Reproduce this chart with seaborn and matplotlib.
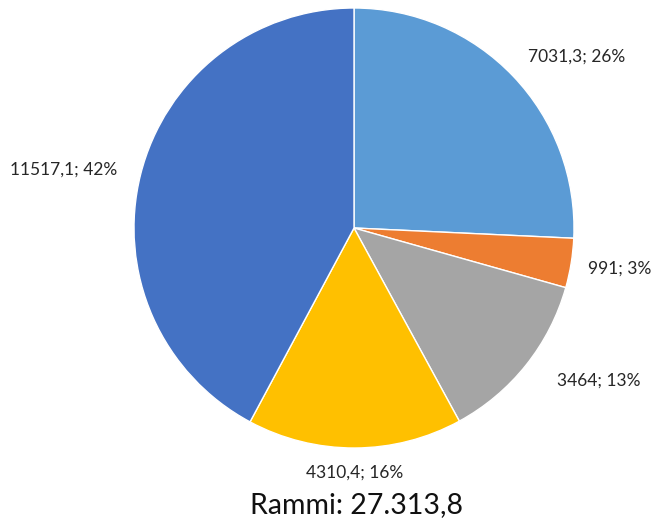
import numpy as np
import matplotlib
matplotlib.use("Agg")
import matplotlib.pyplot as plt
import seaborn as sns

# values per slice, clockwise from 12 o'clock
values = [7031.3, 991, 3464, 4310.4, 11517.1]
value_labels = ["7031,3", "991", "3464", "4310,4", "11517,1"]
pct_labels = ["26%", "3%", "13%", "16%", "42%"]
colors = ["#5B9BD5", "#ED7D31", "#A5A5A5", "#FFC000", "#4472C4"]
title = "Rammi: 27.313,8"

sns.set_style("white")
plt.rcParams["font.family"] = ["Lato", "DejaVu Sans"]

fig = plt.figure(figsize=(6.54, 5.29), dpi=100)
ax = fig.add_axes([134 / 654, 81 / 529, 440 / 654, 440 / 529])

wedges, _ = ax.pie(values, colors=colors, startangle=90, counterclock=False,
                   radius=1, wedgeprops=dict(edgecolor="white", linewidth=1))
ax.set_xlim(-1, 1)
ax.set_ylim(-1, 1)
ax.set_aspect("equal")
ax.axis("off")

# label placement, excel "best fit" look: distance from centre and angle shift
label_dist = [1.275, 1.223, 1.31, 1.11, 1.345]
label_shift = [-6.1, 0.6, 6.7, 0.0, 2.8]
for w, v, p, d, s in zip(wedges, value_labels, pct_labels, label_dist, label_shift):
    ang = np.deg2rad((w.theta1 + w.theta2) / 2 + s)
    ax.text(d * np.cos(ang), d * np.sin(ang), f"{v}; {p}", ha="center", va="center",
            fontsize=12.5, color="#262626", clip_on=False)

fig.text(357 / 654, 1 - 505 / 529, title, ha="center", va="center", fontsize=20.5, color="#111111")

fig.savefig("out.png", dpi=100)
